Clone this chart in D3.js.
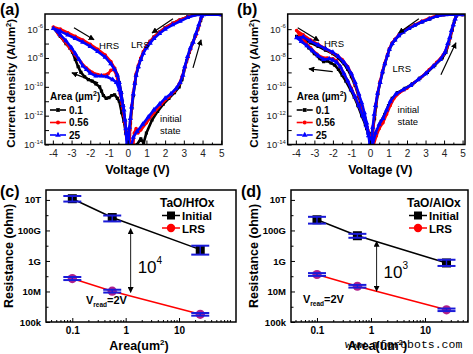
<!DOCTYPE html>
<html>
<head>
<meta charset="utf-8">
<script src="https://cdn.jsdelivr.net/npm/d3@7/dist/d3.min.js"></script>
<style>
  body { margin: 0; background: #fff; }
  svg { display: block; font-family: 'Liberation Sans', Arial, sans-serif; }
</style>
</head>
<body>
<svg width="473" height="354"></svg>
<script>
// ---- data: I-V sweeps, [voltage (V), log10 current density (A/um^2)]
// sweep order: forming (0 -> 5 V), set branch back to 0, 0 -> -4 V, -4 V -> 0
const voltTicks = [-4, -3, -2, -1, 0, 1, 2, 3, 4, 5];
const jTicks = [-14, -12, -10, -8, -6];
const areaLabels = ['0.1', '0.56', '25'];

const a01 = [
  [0.5,-14],[0.7,-13.6],[0.85,-13.9],[1.0,-13.2],[1.3,-12.3],[1.6,-11.7],[1.9,-11.2],[2.2,-10.8],[2.5,-10.4],[2.75,-10.0],
  [2.9,-9.5],[3.0,-8.9],[3.15,-8.2],[3.3,-7.6],[3.45,-7.0],[3.6,-6.5],[3.75,-6.0],[3.9,-5.4],[4.0,-5.0],[5.0,-5.0],
  [3.6,-5.0],[3.2,-5.15],[2.8,-5.35],[2.4,-5.6],[2.0,-5.9],[1.7,-6.2],[1.4,-6.55],[1.2,-6.85],[1.0,-7.2],[0.84,-7.6],
  [0.7,-8.05],[0.57,-8.6],[0.45,-9.2],[0.38,-9.8],[0.3,-10.6],[0.22,-11.5],[0.15,-12.5],[0.1,-13.3],[0.08,-14],
  [0.0,-14],[-0.1,-13.2],[-0.2,-12.4],[-0.32,-11.8],[-0.45,-11.0],[-0.55,-10.8],[-0.7,-10.55],[-0.85,-10.6],[-1.0,-10.75],
  [-1.15,-10.8],[-1.3,-10.6],[-1.4,-10.3],[-1.5,-10.0],[-1.7,-9.8],[-1.9,-9.6],[-2.1,-9.5],[-2.3,-9.3],[-2.5,-9.0],
  [-2.65,-8.6],[-2.8,-8.1],[-2.95,-7.6],[-3.1,-7.3],[-3.3,-7.0],[-3.6,-6.5],[-3.97,-5.9],
  [-3.6,-6.1],[-3.2,-6.35],[-2.8,-6.6],[-2.4,-6.85],[-2.0,-7.15],[-1.6,-7.5],[-1.2,-7.9],[-0.9,-8.35],[-0.7,-8.75],
  [-0.55,-9.2],[-0.45,-9.7],[-0.35,-10.4],[-0.25,-11.3],[-0.15,-12.3],[-0.07,-13.2],[0.0,-14]
];
const a056 = [
  [0.3,-14],[0.35,-13.2],[0.45,-12.9],[0.55,-13.2],[0.7,-13.0],[1.0,-12.5],[1.4,-11.8],[1.8,-11.2],[2.2,-10.7],[2.5,-10.3],
  [2.75,-9.8],[2.9,-9.3],[3.05,-8.7],[3.2,-8.0],[3.35,-7.4],[3.5,-6.9],[3.65,-6.4],[3.8,-5.8],[3.9,-5.3],[4.0,-5.0],[5.0,-5.0],
  [3.6,-5.0],[3.2,-5.15],[2.8,-5.35],[2.4,-5.6],[2.0,-5.9],[1.7,-6.2],[1.4,-6.55],[1.2,-6.85],[1.0,-7.2],[0.84,-7.55],
  [0.7,-8.0],[0.57,-8.5],[0.45,-9.1],[0.38,-9.7],[0.3,-10.4],[0.22,-11.3],[0.16,-12.2],[0.12,-13.0],[0.1,-14],
  [0.0,-14],[-0.1,-13.0],[-0.2,-12.0],[-0.3,-11.2],[-0.4,-10.5],[-0.5,-9.8],[-0.6,-9.2],[-0.75,-8.8],[-0.9,-8.85],
  [-1.05,-9.1],[-1.3,-9.2],[-1.6,-9.15],[-1.9,-9.0],[-2.2,-8.7],[-2.5,-8.3],[-2.8,-7.8],[-3.1,-7.3],[-3.4,-6.8],
  [-3.7,-6.35],[-3.97,-5.85],
  [-3.6,-6.0],[-3.2,-6.25],[-2.8,-6.5],[-2.4,-6.75],[-2.0,-7.05],[-1.6,-7.4],[-1.2,-7.8],[-0.9,-8.25],[-0.7,-8.7],
  [-0.55,-9.2],[-0.45,-9.8],[-0.35,-10.6],[-0.25,-11.5],[-0.15,-12.5],[-0.07,-13.4],[0.02,-14]
];
const a25 = [
  [0.2,-14],[0.3,-13.5],[0.5,-13.1],[0.8,-12.6],[1.1,-12.1],[1.4,-11.6],[1.7,-11.2],[2.0,-10.8],[2.3,-10.5],[2.6,-10.1],
  [2.8,-9.7],[2.95,-9.2],[3.05,-8.6],[3.2,-7.9],[3.35,-7.3],[3.5,-6.9],[3.65,-6.3],[3.8,-5.7],[3.95,-5.1],[4.05,-5.0],[5.0,-5.0],
  [3.7,-5.0],[3.2,-5.2],[2.8,-5.45],[2.4,-5.7],[2.0,-6.0],[1.7,-6.3],[1.4,-6.65],[1.2,-6.97],[1.0,-7.3],[0.84,-7.67],
  [0.7,-8.1],[0.57,-8.6],[0.45,-9.2],[0.38,-9.75],[0.3,-10.5],[0.21,-11.4],[0.14,-12.2],[0.09,-12.8],[0.05,-14],
  [-0.05,-14],[-0.1,-12.9],[-0.2,-11.6],[-0.32,-10.9],[-0.45,-10.2],[-0.6,-9.7],[-0.8,-9.5],[-1.1,-9.3],[-1.4,-9.25],
  [-1.7,-9.25],[-2.0,-9.05],[-2.2,-8.8],[-2.4,-8.55],[-2.6,-8.1],[-2.8,-7.7],[-3.0,-7.3],[-3.3,-6.8],[-3.6,-6.4],[-3.97,-5.95],
  [-3.6,-6.15],[-3.2,-6.4],[-2.8,-6.65],[-2.4,-6.9],[-2.0,-7.2],[-1.6,-7.55],[-1.2,-7.95],[-0.9,-8.4],[-0.7,-8.8],
  [-0.55,-9.2],[-0.45,-9.7],[-0.35,-10.4],[-0.25,-11.3],[-0.15,-12.3],[-0.07,-13.2],[0.0,-14]
];

const b01 = [
  [0.25,-13.3],[0.4,-13.0],[0.6,-12.4],[0.8,-11.9],[1.0,-11.3],[1.2,-10.8],[1.5,-10.4],[1.9,-10.1],[2.3,-9.8],[2.7,-9.4],
  [3.1,-9.0],[3.5,-8.5],[3.9,-8.0],[4.1,-7.6],[4.25,-7.0],[4.35,-6.5],[4.45,-6.0],[4.55,-5.5],[4.65,-5.1],[4.7,-5.0],[5.0,-5.0],
  [4.0,-5.0],[3.6,-5.1],[3.2,-5.3],[2.8,-5.5],[2.4,-5.75],[2.1,-5.95],[1.8,-6.2],[1.55,-6.45],[1.35,-6.75],[1.2,-7.0],
  [1.05,-7.4],[0.95,-7.8],[0.8,-8.4],[0.68,-9.0],[0.55,-9.7],[0.42,-10.5],[0.32,-11.4],[0.25,-12.2],[0.15,-13.0],[0.05,-13.3],
  [-0.1,-13.2],[-0.25,-12.6],[-0.45,-12.0],[-0.65,-11.3],[-0.85,-10.7],[-1.05,-10.2],[-1.3,-9.6],[-1.5,-9.2],[-1.7,-8.8],
  [-1.9,-8.5],[-2.1,-8.35],[-2.3,-8.2],[-2.5,-8.25],[-2.7,-8.05],[-3.0,-7.7],[-3.3,-7.3],[-3.6,-6.9],[-3.96,-6.5],
  [-3.6,-6.7],[-3.2,-6.95],[-2.8,-7.2],[-2.4,-7.45],[-2.0,-7.7],[-1.7,-8.0],[-1.4,-8.4],[-1.2,-8.8],[-1.0,-9.3],
  [-0.8,-9.9],[-0.6,-10.7],[-0.45,-11.4],[-0.3,-12.2],[-0.18,-12.9],[-0.05,-13.3],[0.05,-13.3]
];
const b056 = [
  [0.2,-14],[0.35,-13.4],[0.5,-12.9],[0.7,-12.5],[0.9,-11.9],[1.1,-11.3],[1.3,-10.8],[1.6,-10.4],[2.0,-10.1],[2.4,-9.7],
  [2.8,-9.3],[3.2,-8.8],[3.6,-8.3],[3.95,-7.8],[4.15,-7.3],[4.3,-6.7],[4.4,-6.2],[4.5,-5.7],[4.6,-5.3],[4.7,-5.0],[5.0,-5.0],
  [4.0,-5.0],[3.6,-5.05],[3.2,-5.25],[2.8,-5.45],[2.4,-5.7],[2.1,-5.9],[1.8,-6.15],[1.55,-6.4],[1.35,-6.7],[1.2,-6.95],
  [1.05,-7.35],[0.95,-7.75],[0.8,-8.35],[0.68,-8.9],[0.55,-9.6],[0.42,-10.4],[0.32,-11.2],[0.25,-11.9],[0.18,-12.7],
  [0.14,-13.4],[0.12,-14],
  [0.1,-14],[0.0,-13.4],[-0.15,-12.8],[-0.35,-12.1],[-0.6,-11.3],[-0.8,-10.7],[-1.0,-10.1],[-1.2,-9.6],[-1.4,-9.1],
  [-1.6,-8.6],[-1.8,-8.2],[-2.0,-8.05],[-2.3,-8.0],[-2.6,-7.95],[-2.9,-7.7],[-3.2,-7.3],[-3.5,-6.9],[-3.8,-6.4],[-3.96,-6.1],
  [-3.6,-6.4],[-3.2,-6.75],[-2.8,-7.05],[-2.4,-7.35],[-2.1,-7.6],[-1.8,-7.8],[-1.5,-8.1],[-1.2,-8.6],[-1.0,-9.1],
  [-0.8,-9.8],[-0.6,-10.6],[-0.4,-11.4],[-0.25,-12.2],[-0.12,-13.0],[0.05,-14]
];
const b25 = [
  [0.15,-14],[0.3,-13.2],[0.5,-12.6],[0.7,-12.2],[0.9,-11.6],[1.1,-11.0],[1.4,-10.5],[1.8,-10.2],[2.2,-9.9],[2.6,-9.5],
  [3.0,-9.1],[3.4,-8.6],[3.8,-8.1],[4.05,-7.6],[4.2,-7.0],[4.3,-6.6],[4.4,-6.1],[4.5,-5.7],[4.6,-5.3],[4.7,-5.0],[5.0,-5.0],
  [4.1,-5.0],[3.6,-5.1],[3.2,-5.3],[2.8,-5.5],[2.4,-5.75],[2.1,-5.95],[1.8,-6.2],[1.55,-6.45],[1.35,-6.75],[1.2,-7.0],
  [1.05,-7.4],[0.95,-7.8],[0.8,-8.4],[0.68,-8.95],[0.55,-9.7],[0.41,-10.45],[0.3,-11.3],[0.23,-11.9],[0.15,-12.8],
  [0.1,-13.5],[0.05,-14],
  [0.0,-14],[-0.08,-13.4],[-0.2,-12.7],[-0.4,-12.0],[-0.6,-11.3],[-0.8,-10.7],[-1.0,-10.2],[-1.2,-9.6],[-1.4,-9.1],
  [-1.6,-8.6],[-1.8,-8.3],[-2.0,-8.15],[-2.2,-8.05],[-2.5,-8.1],[-2.8,-7.85],[-3.1,-7.5],[-3.4,-7.15],[-3.7,-6.85],[-3.96,-6.6],
  [-3.6,-6.55],[-3.2,-6.85],[-2.8,-7.1],[-2.4,-7.35],[-2.0,-7.6],[-1.7,-7.9],[-1.4,-8.3],[-1.2,-8.65],[-1.0,-9.1],
  [-0.8,-9.7],[-0.6,-10.5],[-0.45,-11.1],[-0.3,-11.8],[-0.18,-12.5],[-0.08,-13.2],[-0.02,-14]
];

// arrows [v1, logJ1, v2, logJ2], head at the second point
const aArrows = [[-2.87,-5.91,-1.8,-6.74], [-1.58,-9.73,-2.98,-9.03], [2.42,-5.28,1.3,-6.26], [3.49,-8.69,3.92,-6.74]];
const bArrows = [[-3.9,-5.91,-2.75,-6.81], [-2.01,-8.94,-3.29,-8.76], [2.64,-5.28,1.55,-6.26], [3.83,-9.17,4.64,-6.95]];

// ---- data: resistance vs area (read at 2 V)
const areas = [0.1, 0.56, 25];
const areaTicks = [0.1, 1, 10];
const resTicks = [1e5, 1e7, 1e9, 1e11, 1e13];
const resTickLabels = ['100k', '10M', '1G', '100G', '10T'];

const cInit = [1.2e13, 7e11, 5.5e9];
const cInitLo = [7.8e12, 3.9e11, 2.6e9];
const cInitHi = [1.8e13, 9.5e11, 1.0e10];
const cLrs = [7e7, 1.05e7, 3.2e5];
const cLrsLo = [5.6e7, 8.5e6, 2.6e5];
const cLrsHi = [8.9e7, 1.3e7, 3.9e5];
const cGap = [1.24, 1.3e11, 8.7e6];

const dInit = [5e11, 4.5e10, 7.4e8];
const dInitLo = [2.8e11, 3.3e10, 4.7e8];
const dInitHi = [7.8e11, 6e10, 1.2e9];
const dLrs = [1.3e8, 2.2e7, 6.3e5];
const dLrsLo = [1.05e8, 1.8e7, 5.2e5];
const dLrsHi = [1.6e8, 2.7e7, 7.6e5];
const dGap = [1.27, 1.9e10, 1.05e7];

const svg = d3.select('svg');
const defs = svg.append('defs');

defs.append('marker')
  .attr('id', 'head')
  .attr('viewBox', '0 0 10 10')
  .attr('refX', 9).attr('refY', 5)
  .attr('markerWidth', 6).attr('markerHeight', 6)
  .attr('markerUnits', 'userSpaceOnUse')
  .attr('orient', 'auto-start-reverse')
  .append('path').attr('d', 'M0,0 L10,5 L0,10 z').attr('fill', '#000');

const seriesStyle = [
  { color: '#000000', sym: d3.symbolSquare, size: 10 },
  { color: '#ff0000', sym: d3.symbolCircle, size: 10 },
  { color: '#0000ff', sym: d3.symbolTriangle, size: 12 }
];

function sup(text, base, s, size) {
  text.append('tspan').text(base);
  text.append('tspan').attr('dy', -size * 0.45).attr('font-size', size * 0.62).text(s);
}

function ivPanel(p) {
  const g = svg.append('g');
  const x = d3.scaleLinear().domain(p.vDom).range([p.x0, p.x1]);
  const y = d3.scaleLinear().domain([-14, -4.95]).range([p.y1, p.y0]);

  defs.append('clipPath').attr('id', 'clip' + p.id)
    .append('rect').attr('x', p.x0).attr('y', p.y0)
    .attr('width', p.x1 - p.x0).attr('height', p.y1 - p.y0);

  const plot = g.append('g').attr('clip-path', `url(#clip${p.id})`);
  const line = d3.line().x(d => x(d[0])).y(d => y(d[1]));

  p.series.forEach((s, i) => {
    const st = seriesStyle[i];
    plot.append('path')
      .datum(s)
      .attr('d', line)
      .attr('fill', 'none')
      .attr('stroke', st.color)
      .attr('stroke-width', 2.6)
      .attr('stroke-linejoin', 'round');
    plot.selectAll('.m' + i)
      .data(s)
      .enter().append('path')
      .attr('transform', d => `translate(${x(d[0])},${y(d[1])})`)
      .attr('d', d3.symbol().type(st.sym).size(st.size))
      .attr('fill', st.color);
  });

  // axes, ticks inside
  g.append('g')
    .attr('transform', `translate(0,${p.y1})`)
    .call(d3.axisBottom(x).tickValues(voltTicks).tickSize(-4).tickPadding(5).tickFormat(d => d))
    .call(a => a.select('.domain').remove())
    .call(a => a.selectAll('text').attr('font-size', 10).attr('font-family', 'Liberation Sans, Arial').attr('fill', '#222'));
  g.append('g')
    .attr('transform', `translate(0,${p.y1})`)
    .call(d3.axisBottom(x).tickValues(voltTicks.slice(0, -1).map(v => v + 0.5)).tickSize(-2).tickFormat(''))
    .call(a => a.select('.domain').remove());
  g.append('g')
    .attr('transform', `translate(${p.x0},0)`)
    .call(d3.axisLeft(y).tickValues(d3.range(-14, -5)).tickSize(-4).tickFormat(''))
    .call(a => a.select('.domain').remove());

  g.selectAll('.jl')
    .data(jTicks)
    .enter().append('text')
    .attr('x', p.x0 - 2)
    .attr('y', d => y(d) + 3.5)
    .attr('text-anchor', 'end')
    .attr('font-size', 9.5)
    .attr('fill', '#222')
    .each(function(d) { sup(d3.select(this), '10', String(d), 9.5); });

  g.append('rect')
    .attr('x', p.x0).attr('y', p.y0)
    .attr('width', p.x1 - p.x0).attr('height', p.y1 - p.y0)
    .attr('fill', 'none').attr('stroke', '#000').attr('stroke-width', 1.5);

  // titles
  g.append('text')
    .attr('x', (p.x0 + p.x1) / 2 + 4).attr('y', p.y1 + 29)
    .attr('text-anchor', 'middle').attr('font-weight', 'bold').attr('font-size', 12.5)
    .text('Voltage (V)');
  const yt = g.append('text')
    .attr('transform', `translate(${p.x0 - 30},${(p.y0 + p.y1) / 2 + 4}) rotate(-90)`)
    .attr('text-anchor', 'middle').attr('font-weight', 'bold').attr('font-size', 11.5);
  yt.append('tspan').text('Current density (A/um');
  yt.append('tspan').attr('dy', -4).attr('font-size', 7.5).text('2');
  yt.append('tspan').attr('dy', 4).text(')');

  g.append('text')
    .attr('x', p.labelX).attr('y', 15)
    .attr('font-weight', 'bold').attr('font-size', 16)
    .text(p.label);

  // legend
  const lg = g.append('g').attr('transform', `translate(${p.x0 + p.legDx},${p.legY})`);
  const lt = lg.append('text').attr('x', 0).attr('y', 0)
    .attr('font-weight', 'bold').attr('font-size', 10);
  lt.append('tspan').text('Area (\u00b5m');
  lt.append('tspan').attr('dy', -4).attr('font-size', 7).text('2');
  lt.append('tspan').attr('dy', 4).text(')');
  areaLabels.forEach((lab, i) => {
    const st = seriesStyle[i];
    const yy = 10 + i * 12.5;
    lg.append('line').attr('x1', 0).attr('x2', 6).attr('y1', yy).attr('y2', yy)
      .attr('stroke', st.color).attr('stroke-width', 1.6);
    lg.append('line').attr('x1', 10).attr('x2', 16).attr('y1', yy).attr('y2', yy)
      .attr('stroke', st.color).attr('stroke-width', 1.6);
    lg.append('path').attr('transform', `translate(8,${yy})`)
      .attr('d', d3.symbol().type(st.sym).size(14)).attr('fill', st.color);
    lg.append('text').attr('x', 19).attr('y', yy + 3.6)
      .attr('font-weight', 'bold').attr('font-size', 10).text(lab);
  });

  // annotations
  p.notes.forEach(n => {
    g.append('text').attr('x', x(n[0])).attr('y', y(n[1]))
      .attr('font-size', 9.5).text(n[2]);
  });
  g.selectAll('.arr')
    .data(p.arrows)
    .enter().append('line')
    .attr('x1', d => x(d[0])).attr('y1', d => y(d[1]))
    .attr('x2', d => x(d[2])).attr('y2', d => y(d[3]))
    .attr('stroke', '#000').attr('stroke-width', 1.2)
    .attr('marker-end', 'url(#head)');
}

function resPanel(p) {
  const g = svg.append('g');
  const x = d3.scaleLog().domain(p.aDom).range([p.x0, p.x1]);
  const y = d3.scaleLog().domain([1e5, 10 ** 13.65]).range([p.y1, p.y0]);

  // minor ticks along area axis
  const minor = [];
  for (let e = -2; e <= 2; e++) {
    for (let k = 2; k <= 9; k++) {
      const v = k * 10 ** e;
      if (v > p.aDom[0] && v < p.aDom[1]) minor.push(v);
    }
  }
  g.append('g').attr('transform', `translate(0,${p.y1})`)
    .call(d3.axisBottom(x).tickValues(minor).tickSize(-2).tickFormat(''))
    .call(a => a.select('.domain').remove());
  g.append('g').attr('transform', `translate(0,${p.y1})`)
    .call(d3.axisBottom(x).tickValues(areaTicks).tickSize(-4).tickPadding(5).tickFormat(d => String(d)))
    .call(a => a.select('.domain').remove())
    .call(a => a.selectAll('text').attr('font-size', 10).attr('font-weight', 'bold').attr('font-family', 'Liberation Sans, Arial'));
  g.append('g').attr('transform', `translate(${p.x0},0)`)
    .call(d3.axisLeft(y).tickValues([1e6, 1e8, 1e10, 1e12]).tickSize(-2.5).tickFormat(''))
    .call(a => a.select('.domain').remove());
  g.append('g').attr('transform', `translate(${p.x0},0)`)
    .call(d3.axisLeft(y).tickValues(resTicks).tickSize(-4).tickPadding(5).tickFormat((d, i) => resTickLabels[i]))
    .call(a => a.select('.domain').remove())
    .call(a => a.selectAll('text').attr('font-size', 9.5).attr('font-weight', 'bold').attr('font-family', 'Liberation Sans, Arial'));

  const line = d3.line().x((d, i) => x(areas[i])).y(d => y(d));
  g.append('path').datum(p.init).attr('d', line)
    .attr('fill', 'none').attr('stroke', '#000').attr('stroke-width', 1.5);
  g.append('path').datum(p.lrs).attr('d', line)
    .attr('fill', 'none').attr('stroke', '#ff0000').attr('stroke-width', 1.5);

  g.selectAll('.sq').data(p.init).enter().append('rect')
    .attr('x', (d, i) => x(areas[i]) - 4.5).attr('y', d => y(d) - 4.5)
    .attr('width', 9).attr('height', 9).attr('fill', '#000');
  g.selectAll('.ci').data(p.lrs).enter().append('circle')
    .attr('cx', (d, i) => x(areas[i])).attr('cy', d => y(d))
    .attr('r', 4.6).attr('fill', '#b0208a');

  // error bars
  function bars(lo, hi) {
    areas.forEach((a, i) => {
      const cx = x(a);
      g.append('line').attr('x1', cx).attr('x2', cx).attr('y1', y(lo[i])).attr('y2', y(hi[i]))
        .attr('stroke', '#1a1ad8').attr('stroke-width', 1.4);
      [lo[i], hi[i]].forEach(v => {
        g.append('line').attr('x1', cx - 9).attr('x2', cx + 9).attr('y1', y(v)).attr('y2', y(v))
          .attr('stroke', '#1a1ad8').attr('stroke-width', 2);
      });
    });
  }
  bars(p.initLo, p.initHi);
  bars(p.lrsLo, p.lrsHi);

  g.append('rect')
    .attr('x', p.x0).attr('y', p.y0)
    .attr('width', p.x1 - p.x0).attr('height', p.y1 - p.y0)
    .attr('fill', 'none').attr('stroke', '#000').attr('stroke-width', 1.5);

  // gap arrow
  g.append('line')
    .attr('x1', x(p.gap[0])).attr('x2', x(p.gap[0]))
    .attr('y1', y(p.gap[1])).attr('y2', y(p.gap[2]))
    .attr('stroke', '#000').attr('stroke-width', 0.9)
    .attr('marker-start', 'url(#head)').attr('marker-end', 'url(#head)');
  const gt = g.append('text').attr('x', x(p.gap[0]) + 7).attr('y', y(Math.sqrt(p.gap[1] * p.gap[2])) + 12)
    .attr('font-size', 17);
  gt.append('tspan').text('10');
  gt.append('tspan').attr('dy', -9).attr('font-size', 10).text(p.gapExp);

  // V_read
  const vt = g.append('text').attr('x', p.x0 + p.vrX).attr('y', p.vrY)
    .attr('font-weight', 'bold').attr('font-size', 11);
  vt.append('tspan').text('V');
  vt.append('tspan').attr('dy', 3).attr('font-size', 6.5).text('read');
  vt.append('tspan').attr('dy', -3).text('=2V');

  // legend
  const lg = g.append('g').attr('transform', `translate(${p.legX},0)`);
  lg.append('text').attr('x', 0).attr('y', 207)
    .attr('font-weight', 'bold').attr('font-size', 12).text(p.title);
  lg.append('line').attr('x1', 2).attr('x2', 20).attr('y1', 215.5).attr('y2', 215.5)
    .attr('stroke', '#000').attr('stroke-width', 1.5);
  lg.append('rect').attr('x', 7).attr('y', 211.5).attr('width', 8).attr('height', 8).attr('fill', '#000');
  lg.append('text').attr('x', 22).attr('y', 220).attr('font-weight', 'bold').attr('font-size', 11.5).text('Initial');
  lg.append('line').attr('x1', 2).attr('x2', 20).attr('y1', 228).attr('y2', 228)
    .attr('stroke', '#ff0000').attr('stroke-width', 1.5);
  lg.append('circle').attr('cx', 11).attr('cy', 228).attr('r', 4.2).attr('fill', '#ff0000');
  lg.append('text').attr('x', 22).attr('y', 232.5).attr('font-weight', 'bold').attr('font-size', 11.5).text('LRS');

  // titles
  const xt = g.append('text')
    .attr('x', (p.x0 + p.x1) / 2 - 2).attr('y', 350)
    .attr('text-anchor', 'middle').attr('font-weight', 'bold').attr('font-size', 12.5);
  xt.append('tspan').text('Area(um');
  xt.append('tspan').attr('dy', -5).attr('font-size', 8).text('2');
  xt.append('tspan').attr('dy', 5).text(')');
  g.append('text')
    .attr('transform', `translate(${p.x0 - 33},${(p.y0 + p.y1) / 2}) rotate(-90)`)
    .attr('text-anchor', 'middle').attr('font-weight', 'bold').attr('font-size', 12.5)
    .text('Resistance (ohm)');

  g.append('text')
    .attr('x', p.labelX).attr('y', 197)
    .attr('font-weight', 'bold').attr('font-size', 16)
    .text(p.label);
}

ivPanel({
  id: 'a', label: '(a)', labelX: 0,
  x0: 45, x1: 222, y0: 14, y1: 144.5, vDom: [-4.42, 5.04],
  series: [a01, a056, a25], legDx: 5, legY: 100,
  notes: [[-1.53, -7.37, 'HRS'], [0.18, -7.3, 'LRS'], [1.73, -12.44, 'initial'], [1.73, -13.24, 'state']],
  arrows: aArrows
});
ivPanel({
  id: 'b', label: '(b)', labelX: 237,
  x0: 287.7, x1: 465, y0: 14, y1: 144.5, vDom: [-4.44, 5.13],
  series: [b01, b056, b25], legDx: 9, legY: 100,
  notes: [[-2.48, -7.23, 'HRS'], [1.22, -8.94, 'LRS'], [1.49, -11.8, 'initial'], [1.49, -12.65, 'state']],
  arrows: bArrows
});
resPanel({
  label: '(c)', labelX: 0, title: 'TaO/HfOx', legX: 160,
  x0: 46, x1: 236, y0: 190, y1: 322, aDom: [10 ** -1.493, 10 ** 2.068],
  init: cInit, initLo: cInitLo, initHi: cInitHi, lrs: cLrs, lrsLo: cLrsLo, lrsHi: cLrsHi,
  gap: cGap, gapExp: '4', vrX: 40, vrY: 304
});
resPanel({
  label: '(d)', labelX: 241, title: 'TaO/AlOx', legX: 407,
  x0: 291, x1: 468, y0: 190, y1: 322, aDom: [10 ** -1.481, 10 ** 1.796],
  init: dInit, initLo: dInitLo, initHi: dInitHi, lrs: dLrs, lrsLo: dLrsLo, lrsHi: dLrsHi,
  gap: dGap, gapExp: '3', vrX: 12, vrY: 303
});

svg.append('text')
  .attr('x', 345).attr('y', 347.5)
  .attr('font-family', 'Liberation Mono, monospace').attr('font-size', 11.5)
  .text('www.mfgrobots.com');
</script>
</body>
</html>
